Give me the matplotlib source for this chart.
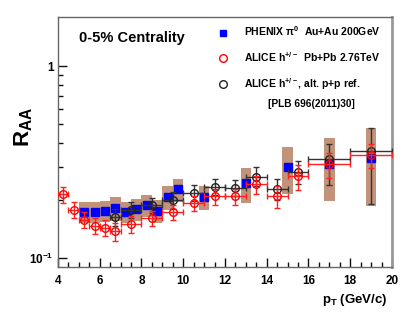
import numpy as np
import matplotlib
matplotlib.use('Agg')
import matplotlib.pyplot as plt
from matplotlib.lines import Line2D
from matplotlib.patches import Rectangle
from matplotlib.ticker import FixedLocator, FixedFormatter, NullFormatter

FONT = ['Liberation Sans', 'DejaVu Sans']
plt.rcParams['font.family'] = FONT
plt.rcParams['font.weight'] = 'bold'
plt.rcParams['mathtext.fontset'] = 'custom'
plt.rcParams['mathtext.rm'] = 'Liberation Sans:bold'
plt.rcParams['mathtext.it'] = 'Liberation Sans:bold'
plt.rcParams['mathtext.bf'] = 'Liberation Sans:bold'

# PHENIX pi0 Au+Au 200 GeV
phx_pt = [5.25, 5.75, 6.25, 6.75, 7.25, 7.75, 8.25, 8.75, 9.25, 9.75, 11.0, 13.0, 15.0, 17.0, 19.0]
phx_raa = [0.174, 0.174, 0.176, 0.183, 0.174, 0.180, 0.189, 0.176, 0.209, 0.228, 0.208, 0.245, 0.297, 0.311, 0.331]
phx_sys = [0.022, 0.022, 0.022, 0.026, 0.022, 0.024, 0.025, 0.024, 0.030, 0.032, 0.030, 0.050, 0.082, 0.113, 0.145]

# ALICE h+- Pb+Pb 2.76 TeV
ali_pt = [4.25, 4.75, 5.25, 5.75, 6.25, 6.75, 7.5, 8.5, 9.5, 10.5, 11.5, 12.5, 13.5, 14.5, 15.5, 17.0, 19.0]
ali_xerr = [0.25, 0.25, 0.25, 0.25, 0.25, 0.25, 0.5, 0.5, 0.5, 0.5, 0.5, 0.5, 0.5, 0.5, 0.5, 1.0, 1.0]
ali_raa = [0.215, 0.179, 0.159, 0.147, 0.144, 0.138, 0.150, 0.162, 0.174, 0.193, 0.210, 0.210, 0.242, 0.210, 0.267, 0.308, 0.345]
ali_err = [0.021, 0.018, 0.015, 0.014, 0.014, 0.015, 0.015, 0.015, 0.016, 0.017, 0.020, 0.020, 0.025, 0.028, 0.040, 0.047, 0.050]

# ALICE h+- with alternative p+p reference
alt_pt = [6.75, 7.5, 8.5, 9.5, 10.5, 11.5, 12.5, 13.5, 14.5, 15.5, 17.0, 19.0]
alt_xerr = [0.25, 0.5, 0.5, 0.5, 0.5, 0.5, 0.5, 0.5, 0.5, 0.5, 1.0, 1.0]
alt_raa = [0.164, 0.178, 0.189, 0.200, 0.219, 0.235, 0.232, 0.265, 0.228, 0.282, 0.327, 0.361]
alt_err_lo = [0.016, 0.017, 0.018, 0.019, 0.020, 0.022, 0.022, 0.028, 0.028, 0.038, 0.087, 0.170]
alt_err_hi = [0.017, 0.018, 0.018, 0.020, 0.021, 0.024, 0.024, 0.032, 0.029, 0.040, 0.065, 0.113]

box_w = 0.5
box_col = '#c0937a'

fig = plt.figure(figsize=(4.07, 3.16), dpi=100)
ax = fig.add_axes([0.1425, 0.155, 0.8205, 0.791])

# systematic boxes for PHENIX
for x, y, s in zip(phx_pt, phx_raa, phx_sys):
    ax.add_patch(Rectangle((x - box_w / 2, y - s), box_w, 2 * s,
                           facecolor=box_col, edgecolor='none', zorder=1))

ax.plot(phx_pt, phx_raa, 's', color='#0000ff', ms=5.5, mec='#0000ff', zorder=3)

ax.errorbar(alt_pt, alt_raa, xerr=alt_xerr, yerr=[alt_err_lo, alt_err_hi],
            fmt='o', ms=5.5, mfc='none', mec='#222222', color='#333333',
            ecolor='#333333', elinewidth=1, capsize=2, capthick=1, zorder=4)
ax.errorbar(ali_pt, ali_raa, xerr=ali_xerr, yerr=ali_err,
            fmt='o', ms=5.5, mfc='none', mec='#ff0000', color='#ff0000',
            ecolor='#ff2020', elinewidth=1, capsize=2, capthick=1, zorder=5)

ax.set_xlim(4, 20)
ax.set_yscale('log')
ax.set_ylim(0.09, 1.8)

ax.set_xticks(np.arange(4, 21, 2))
ax.set_xticks(np.arange(4, 20.01, 0.5), minor=True)
ax.yaxis.set_major_locator(FixedLocator([0.1, 1]))
ax.yaxis.set_major_formatter(FixedFormatter([r'$10^{-1}$', '1']))
ax.yaxis.set_minor_locator(FixedLocator([0.2, 0.3, 0.4, 0.5, 0.6, 0.7, 0.8, 0.9]))
ax.yaxis.set_minor_formatter(NullFormatter())

ax.tick_params(which='both', direction='in', top=False, right=False, color='#111111',
               labelsize=8.5)
ax.tick_params(which='major', length=6.5, width=1)
ax.tick_params(which='minor', length=3.5, width=1)
ax.tick_params(axis='x', pad=6)
ax.tick_params(axis='y', pad=3)

for side in ['left', 'bottom', 'top']:
    ax.spines[side].set_color('#666666')
    ax.spines[side].set_linewidth(1.0)
ax.spines['right'].set_color('#999999')
ax.spines['right'].set_linewidth(2.0)

ax.set_xlabel(r'$p_{T}$ (GeV/c)', fontsize=9.5, fontweight='bold', ha='right')
ax.xaxis.set_label_coords(0.988, -0.1)
ax.set_ylabel(r'$R_{AA}$', fontsize=16)
ax.yaxis.set_label_coords(-0.07, 0.56)

ax.text(0.062, 0.9, '0-5% Centrality', transform=ax.transAxes, fontsize=10.5,
        fontweight='bold')

handles = [
    Line2D([], [], ls='none', marker='s', color='#0000ff', ms=5),
    Line2D([], [], ls='none', marker='o', mfc='none', mec='#ff0000', ms=5.5),
    Line2D([], [], ls='none', marker='o', mfc='none', mec='#222222', ms=5.5),
]
labels = [r'PHENIX $\pi^{0}$  Au+Au 200GeV',
          r'ALICE h$^{+/-}$  Pb+Pb 2.76TeV',
          r'ALICE h$^{+/-}$, alt. p+p ref.']
ax.legend(handles, labels, loc='upper left', bbox_to_anchor=(0.48, 0.97),
          frameon=False, fontsize=7.5, handlelength=1.0, handletextpad=1.5,
          labelspacing=1.15, borderpad=0, borderaxespad=0)
ax.text(0.63, 0.64, '[PLB 696(2011)30]', transform=ax.transAxes, fontsize=7.3,
        fontweight='bold')

fig.savefig('out.png', dpi=100)
